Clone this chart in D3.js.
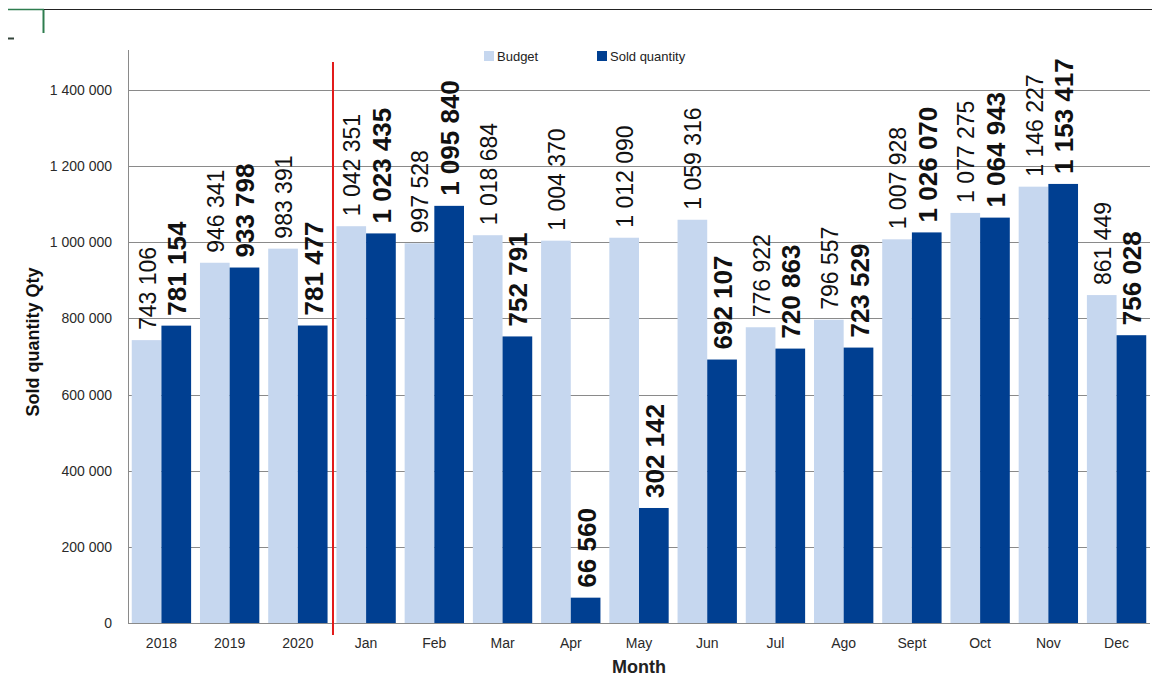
<!DOCTYPE html>
<html>
<head>
<meta charset="utf-8">
<script src="https://cdn.jsdelivr.net/npm/d3@7"></script>
<style>
  body { margin: 0; background: #fff; }
  svg { display: block; font-family: "Liberation Sans", Arial, sans-serif; }
</style>
</head>
<body>
<div id="chart"></div>
<script>
// Categories along the x axis
var categories = ["2018", "2019", "2020", "Jan", "Feb", "Mar", "Apr", "May", "Jun", "Jul", "Ago", "Sept", "Oct", "Nov", "Dec"];

// Series values
var budget = [743106, 946341, 983391, 1042351, 997528, 1018684, 1004370, 1012090, 1059316, 776922, 796557, 1007928, 1077275, 1146227, 861449];
var sold = [781154, 933798, 781477, 1023435, 1095840, 752791, 66560, 302142, 692107, 720863, 723529, 1026070, 1064943, 1153417, 756028];

// y tick values
var yTicks = [0, 200000, 400000, 600000, 800000, 1000000, 1200000, 1400000];

var seriesNames = ["Budget", "Sold quantity"];
var colors = { "Budget": "#c6d7ef", "Sold quantity": "#003f91" };

var width = 1152, height = 677;
// plot box (note: "top" is reserved by the window object, so plotTop etc.)
var plotLeft = 128, plotRight = 1150, plotTop = 52, plotBottom = 623;

// space as thousands separator, like "1 400 000"
var fmt = function (v) { return d3.format(",")(v).replace(/,/g, " "); };

var svg = d3.select("#chart").append("svg")
  .attr("width", width)
  .attr("height", height);

var x = d3.scaleBand()
  .domain(categories)
  .range([plotLeft, plotRight])
  .paddingInner(0.13)
  .paddingOuter(0.055);

var xSub = d3.scaleBand()
  .domain(seriesNames)
  .range([0, x.bandwidth()]);

var y = d3.scaleLinear()
  .domain([0, 1500000])
  .range([plotBottom, plotTop]);

// leftovers of the spreadsheet window at the top
svg.append("line").attr("x1", 8).attr("x2", width).attr("y1", 9.5).attr("y2", 9.5)
  .attr("stroke", "#222").attr("stroke-width", 1);
svg.append("line").attr("x1", 8).attr("x2", 44).attr("y1", 9.5).attr("y2", 9.5)
  .attr("stroke", "#2e7d4f").attr("stroke-width", 1.5);
svg.append("line").attr("x1", 43.5).attr("x2", 43.5).attr("y1", 10).attr("y2", 33)
  .attr("stroke", "#2e7d4f").attr("stroke-width", 2);
svg.append("line").attr("x1", 8).attr("x2", 14).attr("y1", 38.5).attr("y2", 38.5)
  .attr("stroke", "#33443a").attr("stroke-width", 2);

// gridlines behind the bars
svg.append("g")
  .selectAll("line")
  .data(yTicks.slice(1))
  .join("line")
  .attr("x1", plotLeft).attr("x2", plotRight)
  .attr("y1", d => Math.round(y(d)) + 0.5)
  .attr("y2", d => Math.round(y(d)) + 0.5)
  .attr("stroke", "#8a8a8a")
  .attr("stroke-width", 1);

// y tick labels
svg.append("g")
  .selectAll("text")
  .data(yTicks)
  .join("text")
  .attr("x", 112)
  .attr("y", d => y(d) + 5)
  .attr("text-anchor", "end")
  .attr("font-size", 14)
  .attr("fill", "#2a2a2a")
  .text(fmt);

// bars
var rows = categories.map((c, i) => ({ cat: c, values: [
  { name: "Budget", value: budget[i] },
  { name: "Sold quantity", value: sold[i] }
] }));

var groups = svg.append("g")
  .selectAll("g")
  .data(rows)
  .join("g")
  .attr("transform", d => "translate(" + x(d.cat) + ",0)");

groups.selectAll("rect")
  .data(d => d.values)
  .join("rect")
  .attr("x", d => xSub(d.name))
  .attr("width", xSub.bandwidth())
  .attr("y", d => y(d.value))
  .attr("height", d => y(0) - y(d.value))
  .attr("fill", d => colors[d.name]);

// axis lines
svg.append("line").attr("x1", plotLeft + 0.5).attr("x2", plotLeft + 0.5).attr("y1", 50).attr("y2", plotBottom)
  .attr("stroke", "#8a8a8a");
svg.append("line").attr("x1", plotLeft).attr("x2", plotRight).attr("y1", plotBottom + 0.5).attr("y2", plotBottom + 0.5)
  .attr("stroke", "#8a8a8a");

// value labels, rotated
groups.selectAll("text")
  .data(d => d.values)
  .join("text")
  .attr("transform", d => "translate(" + (xSub(d.name) + xSub.bandwidth() / 2 + 1) + "," + (y(d.value) - 10) + ") rotate(-90)")
  .attr("dominant-baseline", "central")
  .attr("font-size", d => d.name == "Budget" ? 23 : 26)
  .attr("font-weight", d => d.name == "Budget" ? "normal" : "bold")
  .attr("fill", "#111")
  .text(d => fmt(d.value));

// x tick labels
svg.append("g")
  .selectAll("text")
  .data(categories)
  .join("text")
  .attr("x", d => x(d) + x.bandwidth() / 2)
  .attr("y", 648)
  .attr("text-anchor", "middle")
  .attr("font-size", 14)
  .attr("fill", "#2a2a2a")
  .text(d => d);

// red separator between years and months
var sepX = x("Jan") - x.step() * x.paddingInner() / 2 + 1;
svg.append("line")
  .attr("x1", sepX).attr("x2", sepX)
  .attr("y1", 62).attr("y2", 635)
  .attr("stroke", "#e21a1a")
  .attr("stroke-width", 2);

// legend
var legendX = [484, 597];
var legend = svg.append("g")
  .selectAll("g")
  .data(seriesNames)
  .join("g")
  .attr("transform", (d, i) => "translate(" + legendX[i] + ",51)");
legend.append("rect")
  .attr("width", 10).attr("height", 10)
  .attr("fill", d => colors[d]);
legend.append("text")
  .attr("x", 13).attr("y", 10)
  .attr("font-size", 13)
  .attr("fill", "#222")
  .text(d => d);

// axis titles
svg.append("text")
  .attr("transform", "translate(39,342) rotate(-90)")
  .attr("text-anchor", "middle")
  .attr("font-size", 18)
  .attr("font-weight", "bold")
  .attr("fill", "#111")
  .text("Sold quantity Qty");

svg.append("text")
  .attr("x", 639)
  .attr("y", 673)
  .attr("text-anchor", "middle")
  .attr("font-size", 18)
  .attr("font-weight", "bold")
  .attr("fill", "#222")
  .text("Month");
</script>
</body>
</html>
